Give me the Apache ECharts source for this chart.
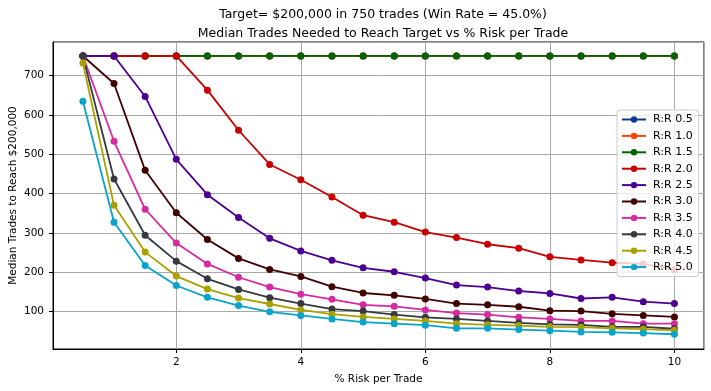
<!DOCTYPE html>
<html>
<head>
<meta charset="utf-8">
<script src="https://cdn.jsdelivr.net/npm/echarts@6/dist/echarts.min.js"></script>
<style>
html,body{margin:0;padding:0;background:#fff;}
#chart{width:711px;height:391px;}
</style>
</head>
<body>
<div id="chart"></div>
<script>
const riskPct = [0.5,1.0,1.5,2.0,2.5,3.0,3.5,4.0,4.5,5.0,5.5,6.0,6.5,7.0,7.5,8.0,8.5,9.0,9.5,10.0];
const seriesNames = ['R:R 0.5','R:R 1.0','R:R 1.5','R:R 2.0','R:R 2.5','R:R 3.0','R:R 3.5','R:R 4.0','R:R 4.5','R:R 5.0'];
const rr05 = [750,750,750,750,750,750,750,750,750,750,750,750,750,750,750,750,750,750,750,750];
const rr10 = [750,750,750,750,750,750,750,750,750,750,750,750,750,750,750,750,750,750,750,750];
const rr15 = [750,750,750,750,750,750,750,750,750,750,750,750,750,750,750,750,750,750,750,750];
const rr20 = [750,750,750,750,663,561,474,435,391,345,327,302,288,271,261,239,231,224,221,206];
const rr25 = [750,750,647,487,397,339,286,254,230,211,201,185,167,162,152,146,133,136,125,120];
const rr30 = [750,680,459,351,283,235,207,189,163,147,141,132,120,117,112,102,101,94,90,86];
const rr35 = [750,533,360,274,221,187,162,144,131,117,113,104,96,92,85,81,76,76,69,69];
const rr40 = [750,437,294,228,183,156,135,120,106,101,92,85,81,76,71,67,66,61,61,56];
const rr45 = [732,370,251,190,157,134,119,104,93,86,81,76,69,66,64,61,60,57,55,52];
const rr50 = [635,327,217,166,136,115,99,90,81,73,69,65,57,57,54,51,48,47,45,42];
const seriesValues = [rr05,rr10,rr15,rr20,rr25,rr30,rr35,rr40,rr45,rr50];
const colors = ['#0a3a90','#ff4500','#006400','#c80000','#4b0092','#400000','#d62aa0','#343a40','#aaa000','#0aa3c9'];
const titleLines = ['Target= $200,000 in 750 trades (Win Rate = 45.0%)','Median Trades Needed to Reach Target vs % Risk per Trade'];
const xTickLabels = [2,4,6,8,10];
const yTickLabels = [100,200,300,400,500,600,700];

const FONT = 'DejaVu Sans';
const chart = echarts.init(document.getElementById('chart'), null, {renderer:'canvas'});
const series = seriesNames.map((name,i)=>({
  name: name,
  type: 'line',
  data: riskPct.map((x,j)=>[x, seriesValues[i][j]]),
  symbol: 'circle',
  symbolSize: 7,
  color: colors[i],
  lineStyle: {width: 1.8, color: colors[i]},
  itemStyle: {color: colors[i]},
  emphasis: {disabled: true},
  animation: false,
  z: 2 + i*0.01
}));

chart.setOption({
  animation: false,
  textStyle: {fontFamily: FONT},
  title: {
    text: titleLines.join('\n'),
    left: 378, top: 0, textAlign: 'center',
    textStyle: {fontFamily: FONT, fontSize: 12.5, fontWeight: 'normal', color: '#000', lineHeight: 19}
  },
  grid: {left: 53, right: 7, top: 42, bottom: 42, containLabel: false, outerBoundsMode: 'none',
    show: true, borderColor: '#000', borderWidth: 1, backgroundColor: 'transparent'},
  legend: {
    orient: 'vertical', left: 617, top: 110,
    data: seriesNames,
    itemWidth: 24, itemHeight: 8, itemGap: 5.4,
    padding: [4, 6, 4, 4],
    backgroundColor: 'rgba(255,255,255,0.8)',
    borderColor: '#cccccc', borderWidth: 1, borderRadius: 3,
    textStyle: {fontFamily: FONT, fontSize: 11, color: '#000', padding: [0,0,0,2]}
  },
  xAxis: {
    type: 'value', min: 0.02, max: 10.475,
    name: '% Risk per Trade', nameLocation: 'middle', nameGap: 25, nameMoveOverlap: false,
    nameTextStyle: {fontFamily: FONT, fontSize: 10.5, color: '#000'},
    axisLine: {show: true, onZero: false, lineStyle: {color: '#000', width: 1}},
    axisTick: {show: true, length: 4, lineStyle: {color: '#000'}},
    axisLabel: {fontFamily: FONT, fontSize: 10.5, color: '#000', margin: 7.5, showMinLabel: false, showMaxLabel: false,
      formatter: v => (xTickLabels.indexOf(Math.round(v*1000)/1000) >= 0 ? String(v) : '')},
    splitLine: {show: true, lineStyle: {color: '#a8a8a8', width: 1}}
  },
  yAxis: {
    type: 'value', min: 4.5, max: 785.5, splitNumber: 8,
    name: 'Median Trades to Reach $200,000', nameLocation: 'middle', nameGap: 34, nameMoveOverlap: false,
    nameTextStyle: {fontFamily: FONT, fontSize: 10.5, color: '#000'},
    axisLine: {show: true, onZero: false, lineStyle: {color: '#000', width: 1}},
    axisTick: {show: true, length: 4, lineStyle: {color: '#000'}},
    axisLabel: {fontFamily: FONT, fontSize: 10.5, color: '#000', margin: 9, showMinLabel: false, showMaxLabel: false,
      formatter: v => (yTickLabels.indexOf(Math.round(v*1000)/1000) >= 0 ? String(v) : '')},
    splitLine: {show: true, lineStyle: {color: '#a8a8a8', width: 1}}
  },
  series: series
});
</script>
</body>
</html>
